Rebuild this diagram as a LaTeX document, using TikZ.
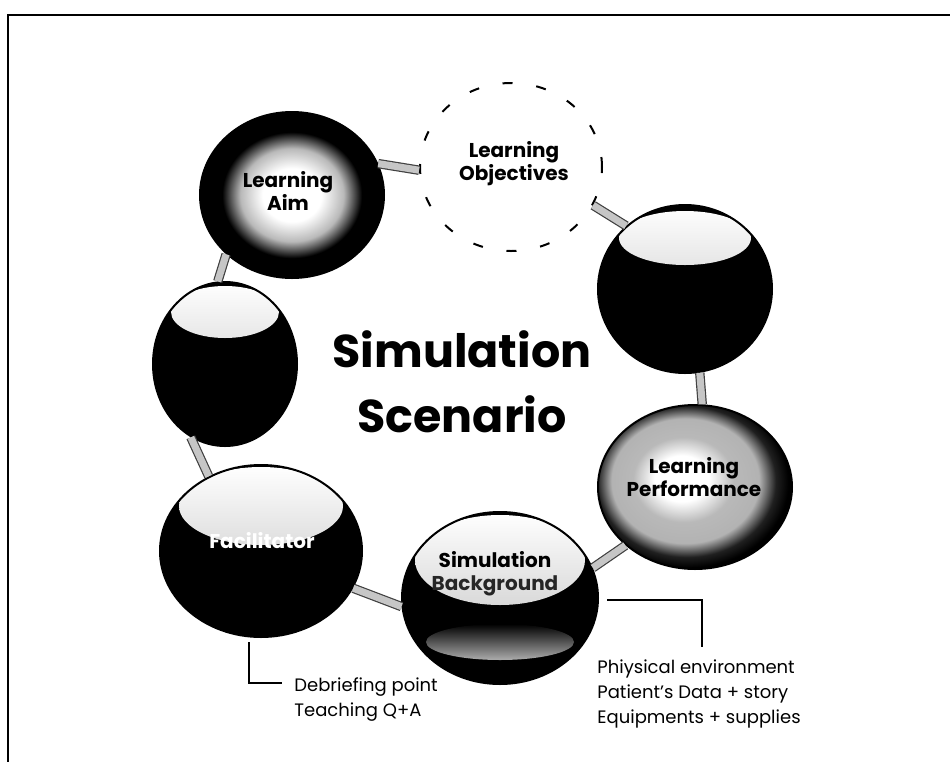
\documentclass[tikz,border=0pt]{standalone}
\usepackage{fontspec}
\setmainfont{Poppins}
\usetikzlibrary{shapes.geometric}

\pgfdeclareradialshading{aimshade}{\pgfpoint{0bp}{0bp}}{color(0bp)=(white); color(8bp)=(white); color(14bp)=(gray!55); color(19bp)=(black); color(50bp)=(black)}
\pgfdeclareradialshading{perfshade}{\pgfpoint{-4bp}{3bp}}{color(0bp)=(white); color(7bp)=(white); color(13bp)=(gray!55); color(19bp)=(gray!60); color(23bp)=(gray!25!black); color(26bp)=(black); color(50bp)=(black)}

\tikzset{
  orb/.style={ellipse, draw=black, line width=1pt, fill=black, inner sep=0pt},
  gloss/.style n args={3}{path picture={\fill[top color=white, bottom color=gray!55]
      ([yshift=#1]path picture bounding box.center) ellipse [x radius=#2, y radius=#3];}},
  band/.style={draw=black!75, double=gray!45, double distance=3.5pt, line width=0.6pt},
  orbtext/.style={font=\bfseries\fontsize{10}{11.5}\selectfont, align=center, inner sep=0pt},
  note/.style={font=\fontsize{9}{12.5}\selectfont, align=left, anchor=north west, inner sep=0pt},
  callout/.style={draw=black, line width=0.6pt}
}

\begin{document}
\begin{tikzpicture}[x=0.5pt, y=-0.5pt]
    \useasboundingbox (0,0) rectangle (950,762);

    % frame
    \draw[line width=1.2pt] (8,762) -- (8,15) -- (950,15);

    % the ring of orbs
    \node[orb, shade, shading=aimshade, minimum width=92pt, minimum height=83pt] (aim) at (292,195) {};
    \node[ellipse, draw=black, line width=1pt, dash pattern=on 5pt off 12pt,
          minimum width=91pt, minimum height=84pt] (obj) at (511,167) {};
    \node[orb, gloss={25.5pt}{33pt}{13.5pt}, minimum width=87pt, minimum height=84pt] (rtop) at (685,289) {};
    \node[orb, shade, shading=perfshade, minimum width=97pt, minimum height=82pt] (perf) at (695,487) {};
    \node[orb, minimum width=98pt, minimum height=86pt,
          path picture={\fill[top color=white, bottom color=gray!55]
            ([yshift=19pt]path picture bounding box.center) ellipse [x radius=42.5pt, y radius=22.5pt];
            \fill[top color=black, bottom color=gray!65]
            ([yshift=-22pt]path picture bounding box.center) ellipse [x radius=37pt, y radius=9pt];}] (sim) at (500,598) {};
    \node[orb, gloss={22.5pt}{41pt}{19.5pt}, minimum width=101pt, minimum height=86pt] (fac) at (261,551) {};
    \node[orb, gloss={26pt}{27pt}{13pt}, minimum width=72pt, minimum height=82pt] (left) at (225,364) {};

    % bands between the orbs
    \draw[band] (aim.20) -- (obj.182);
    \draw[band] (obj.-25) -- (rtop.133);
    \draw[band] (rtop.-80) -- (perf.85);
    \draw[band] (perf.220) -- (sim.18);
    \draw[band] (sim.185) -- (fac.-22);
    \draw[band] (fac.125) -- (left.245);
    \draw[band] (left.95) -- (aim.222);

    % orb labels
    \node[orbtext] (aim-t) at (288,191) {Learning\\Aim};
    \node[orbtext] (obj-t) at (514,164) {Learning\\Objectives};
    \node[orbtext] (perf-t) at (694,477) {Learning\\Performance};
    \node[orbtext] (sim-t) at (495,574) {Simulation\\\textcolor{gray!30!black}{Background}};
    \node[orbtext, text=white] (fac-t) at (262,541) {Facilitator};

    % centre title
    \node[font=\bfseries\fontsize{23}{32.5}\selectfont, align=center] (title) at (462,382) {Simulation\\Scenario};

    % callouts
    \node[note] (debrief) at (294,677) {Debriefing point\\Teaching Q+A};
    \node[note] (equip) at (597,659) {Phiysical environment\\Patient's Data + story\\Equipments + supplies};
    \coordinate (fac-drop) at (249,683);
    \coordinate (sim-turn) at (702,600);
    \draw[callout] ([yshift=-2pt]fac.south -| fac-drop) -- (fac-drop) -- ([xshift=-6pt]fac-drop -| debrief.west);
    \draw[callout] ([xshift=4pt]sim.east |- sim-turn) -- (sim-turn) -- ([yshift=6pt]sim-turn |- equip.north);
\end{tikzpicture}
\end{document}
